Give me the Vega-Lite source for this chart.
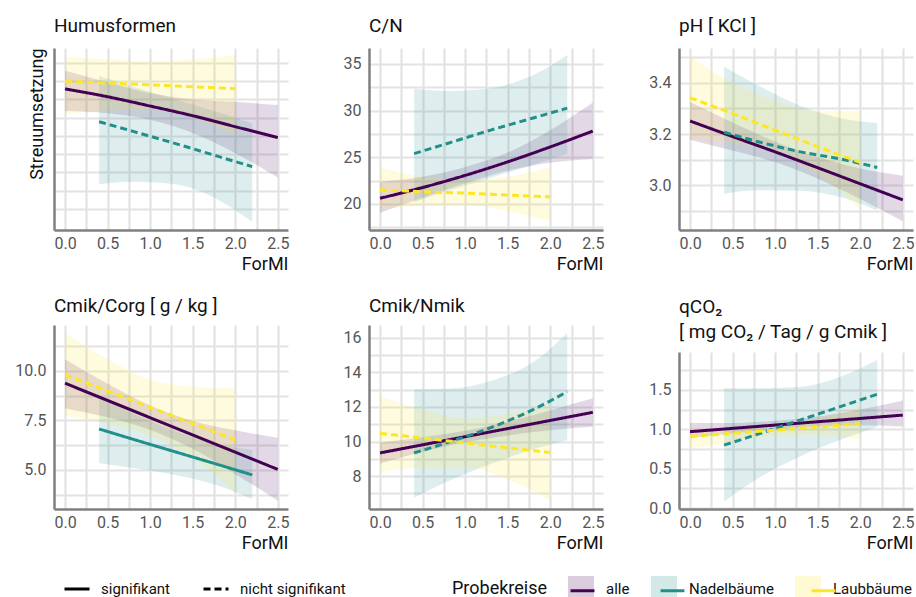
{
  "$schema": "https://vega.github.io/schema/vega-lite/v6.json",
  "background": "white",
  "padding": {"left": 14, "top": 17, "right": 0, "bottom": 0},
  "config": {
    "view": {"stroke": null},
    "font": "Roboto",
    "axis": {"domainColor": "#7f7f7f", "domainWidth": 2.5, "gridColor": "#e3e3e3", "gridWidth": 2.2, "ticks": false, "labelColor": "#555555", "labelFont": "Roboto", "labelFontSize": 16, "titleFont": "Roboto", "titleFontSize": 18, "titleFontWeight": "normal", "titleColor": "#111111", "labelOverlap": false, "labelFlush": false, "tickCount": 50},
    "axisX": {"labelPadding": 5, "labelOverlap": false},
    "axisY": {"labelPadding": 8, "labelOverlap": false},
    "title": {"font": "Roboto", "fontSize": 19, "fontWeight": "normal", "anchor": "start", "frame": "group", "color": "#111111", "offset": 12},
    "range": {"category": ["#440154", "#21908C", "#FDE725"]}
  },
  "datasets": {
    "fits": [
      {"p":"hum","g":"alle","s":"signifikant","x":0,"fit":7.58,"lo":6.37,"hi":8.58},
      {"p":"hum","g":"alle","s":"signifikant","x":0.5,"fit":7.15,"lo":6.25,"hi":7.95},
      {"p":"hum","g":"alle","s":"signifikant","x":1.0,"fit":6.64,"lo":5.89,"hi":7.35},
      {"p":"hum","g":"alle","s":"signifikant","x":1.5,"fit":6.11,"lo":5.16,"hi":7.0},
      {"p":"hum","g":"alle","s":"signifikant","x":2.0,"fit":5.51,"lo":4.06,"hi":6.87},
      {"p":"hum","g":"alle","s":"signifikant","x":2.5,"fit":4.91,"lo":2.72,"hi":6.70},
      {"p":"hum","g":"Nadelbäume","s":"nicht signifikant","x":0.4,"fit":5.78,"lo":2.36,"hi":8.29},
      {"p":"hum","g":"Nadelbäume","s":"nicht signifikant","x":0.8,"fit":5.25,"lo":2.5,"hi":7.7},
      {"p":"hum","g":"Nadelbäume","s":"nicht signifikant","x":1.3,"fit":4.58,"lo":2.35,"hi":7.0},
      {"p":"hum","g":"Nadelbäume","s":"nicht signifikant","x":1.8,"fit":3.88,"lo":1.5,"hi":6.3},
      {"p":"hum","g":"Nadelbäume","s":"nicht signifikant","x":2.2,"fit":3.32,"lo":0.30,"hi":5.70},
      {"p":"hum","g":"Laubbäume","s":"nicht signifikant","x":0,"fit":8.0,"lo":6.2,"hi":9.35},
      {"p":"hum","g":"Laubbäume","s":"nicht signifikant","x":0.5,"fit":7.9,"lo":6.4,"hi":9.2},
      {"p":"hum","g":"Laubbäume","s":"nicht signifikant","x":1.0,"fit":7.8,"lo":6.45,"hi":9.1},
      {"p":"hum","g":"Laubbäume","s":"nicht signifikant","x":1.5,"fit":7.7,"lo":6.0,"hi":9.2},
      {"p":"hum","g":"Laubbäume","s":"nicht signifikant","x":2.0,"fit":7.59,"lo":5.05,"hi":9.44},

      {"p":"cn","g":"alle","s":"signifikant","x":0,"fit":20.6,"lo":19.04,"hi":22.35},
      {"p":"cn","g":"alle","s":"signifikant","x":0.5,"fit":21.75,"lo":20.65,"hi":22.9},
      {"p":"cn","g":"alle","s":"signifikant","x":1.0,"fit":23.05,"lo":22.2,"hi":23.95},
      {"p":"cn","g":"alle","s":"signifikant","x":1.5,"fit":24.5,"lo":23.55,"hi":25.5},
      {"p":"cn","g":"alle","s":"signifikant","x":2.0,"fit":26.1,"lo":24.4,"hi":27.9},
      {"p":"cn","g":"alle","s":"signifikant","x":2.5,"fit":27.8,"lo":24.81,"hi":30.87},
      {"p":"cn","g":"Nadelbäume","s":"nicht signifikant","x":0.4,"fit":25.38,"lo":20.18,"hi":32.33},
      {"p":"cn","g":"Nadelbäume","s":"nicht signifikant","x":0.8,"fit":26.5,"lo":21.4,"hi":32.1},
      {"p":"cn","g":"Nadelbäume","s":"nicht signifikant","x":1.3,"fit":27.9,"lo":22.8,"hi":32.4},
      {"p":"cn","g":"Nadelbäume","s":"nicht signifikant","x":1.8,"fit":29.2,"lo":24.2,"hi":33.8},
      {"p":"cn","g":"Nadelbäume","s":"nicht signifikant","x":2.2,"fit":30.26,"lo":25.38,"hi":35.96},
      {"p":"cn","g":"Laubbäume","s":"nicht signifikant","x":0,"fit":21.5,"lo":19.4,"hi":23.92},
      {"p":"cn","g":"Laubbäume","s":"nicht signifikant","x":0.5,"fit":21.3,"lo":19.8,"hi":22.9},
      {"p":"cn","g":"Laubbäume","s":"nicht signifikant","x":1.0,"fit":21.15,"lo":19.9,"hi":22.6},
      {"p":"cn","g":"Laubbäume","s":"nicht signifikant","x":1.5,"fit":20.95,"lo":19.2,"hi":22.9},
      {"p":"cn","g":"Laubbäume","s":"nicht signifikant","x":2.0,"fit":20.75,"lo":18.15,"hi":23.92},

      {"p":"ph","g":"alle","s":"signifikant","x":0,"fit":3.251,"lo":3.178,"hi":3.325},
      {"p":"ph","g":"alle","s":"signifikant","x":0.5,"fit":3.19,"lo":3.135,"hi":3.245},
      {"p":"ph","g":"alle","s":"signifikant","x":1.0,"fit":3.13,"lo":3.09,"hi":3.17},
      {"p":"ph","g":"alle","s":"signifikant","x":1.5,"fit":3.068,"lo":3.025,"hi":3.11},
      {"p":"ph","g":"alle","s":"signifikant","x":2.0,"fit":3.005,"lo":2.945,"hi":3.065},
      {"p":"ph","g":"alle","s":"signifikant","x":2.5,"fit":2.942,"lo":2.858,"hi":3.037},
      {"p":"ph","g":"Nadelbäume","s":"nicht signifikant","x":0.4,"fit":3.207,"lo":2.966,"hi":3.465},
      {"p":"ph","g":"Nadelbäume","s":"nicht signifikant","x":0.8,"fit":3.17,"lo":2.98,"hi":3.39},
      {"p":"ph","g":"Nadelbäume","s":"nicht signifikant","x":1.3,"fit":3.13,"lo":2.978,"hi":3.31},
      {"p":"ph","g":"Nadelbäume","s":"nicht signifikant","x":1.8,"fit":3.10,"lo":2.95,"hi":3.26},
      {"p":"ph","g":"Nadelbäume","s":"nicht signifikant","x":2.2,"fit":3.069,"lo":2.90,"hi":3.243},
      {"p":"ph","g":"Laubbäume","s":"nicht signifikant","x":0,"fit":3.342,"lo":3.18,"hi":3.505},
      {"p":"ph","g":"Laubbäume","s":"nicht signifikant","x":0.5,"fit":3.28,"lo":3.165,"hi":3.40},
      {"p":"ph","g":"Laubbäume","s":"nicht signifikant","x":1.0,"fit":3.215,"lo":3.13,"hi":3.33},
      {"p":"ph","g":"Laubbäume","s":"nicht signifikant","x":1.5,"fit":3.15,"lo":3.04,"hi":3.29},
      {"p":"ph","g":"Laubbäume","s":"nicht signifikant","x":2.0,"fit":3.089,"lo":2.906,"hi":3.289},

      {"p":"cc","g":"alle","s":"signifikant","x":0,"fit":9.38,"lo":8.11,"hi":10.59},
      {"p":"cc","g":"alle","s":"signifikant","x":0.5,"fit":8.51,"lo":7.66,"hi":9.36},
      {"p":"cc","g":"alle","s":"signifikant","x":1.0,"fit":7.64,"lo":7.02,"hi":8.26},
      {"p":"cc","g":"alle","s":"signifikant","x":1.5,"fit":6.77,"lo":6.07,"hi":7.47},
      {"p":"cc","g":"alle","s":"signifikant","x":2.0,"fit":5.9,"lo":4.8,"hi":7.0},
      {"p":"cc","g":"alle","s":"signifikant","x":2.5,"fit":5.03,"lo":3.45,"hi":6.63},
      {"p":"cc","g":"Nadelbäume","s":"signifikant","x":0.4,"fit":7.07,"lo":5.34,"hi":8.62},
      {"p":"cc","g":"Nadelbäume","s":"signifikant","x":0.8,"fit":6.55,"lo":5.1,"hi":7.85},
      {"p":"cc","g":"Nadelbäume","s":"signifikant","x":1.3,"fit":5.91,"lo":4.75,"hi":6.95},
      {"p":"cc","g":"Nadelbäume","s":"signifikant","x":1.8,"fit":5.27,"lo":4.2,"hi":6.3},
      {"p":"cc","g":"Nadelbäume","s":"signifikant","x":2.2,"fit":4.75,"lo":3.52,"hi":6.01},
      {"p":"cc","g":"Laubbäume","s":"nicht signifikant","x":0,"fit":9.8,"lo":7.73,"hi":11.9},
      {"p":"cc","g":"Laubbäume","s":"nicht signifikant","x":0.5,"fit":8.98,"lo":7.35,"hi":10.6},
      {"p":"cc","g":"Laubbäume","s":"nicht signifikant","x":1.0,"fit":8.16,"lo":6.75,"hi":9.55},
      {"p":"cc","g":"Laubbäume","s":"nicht signifikant","x":1.5,"fit":7.34,"lo":5.6,"hi":9.2},
      {"p":"cc","g":"Laubbäume","s":"nicht signifikant","x":2.0,"fit":6.52,"lo":3.82,"hi":9.12},

      {"p":"cnm","g":"alle","s":"signifikant","x":0,"fit":9.34,"lo":8.72,"hi":9.94},
      {"p":"cnm","g":"alle","s":"signifikant","x":0.5,"fit":9.81,"lo":9.4,"hi":10.25},
      {"p":"cnm","g":"alle","s":"signifikant","x":1.0,"fit":10.28,"lo":9.95,"hi":10.62},
      {"p":"cnm","g":"alle","s":"signifikant","x":1.5,"fit":10.75,"lo":10.35,"hi":11.15},
      {"p":"cnm","g":"alle","s":"signifikant","x":2.0,"fit":11.22,"lo":10.65,"hi":11.8},
      {"p":"cnm","g":"alle","s":"signifikant","x":2.5,"fit":11.69,"lo":10.85,"hi":12.5},
      {"p":"cnm","g":"Nadelbäume","s":"nicht signifikant","x":0.4,"fit":9.34,"lo":6.74,"hi":13.03},
      {"p":"cnm","g":"Nadelbäume","s":"nicht signifikant","x":0.8,"fit":9.95,"lo":7.7,"hi":13.05},
      {"p":"cnm","g":"Nadelbäume","s":"nicht signifikant","x":1.3,"fit":10.8,"lo":8.7,"hi":13.5},
      {"p":"cnm","g":"Nadelbäume","s":"nicht signifikant","x":1.8,"fit":11.85,"lo":9.55,"hi":14.6},
      {"p":"cnm","g":"Nadelbäume","s":"nicht signifikant","x":2.2,"fit":12.89,"lo":10.08,"hi":16.29},
      {"p":"cnm","g":"Laubbäume","s":"nicht signifikant","x":0,"fit":10.47,"lo":8.23,"hi":12.64},
      {"p":"cnm","g":"Laubbäume","s":"nicht signifikant","x":0.5,"fit":10.2,"lo":8.5,"hi":11.85},
      {"p":"cnm","g":"Laubbäume","s":"nicht signifikant","x":1.0,"fit":9.92,"lo":8.5,"hi":11.34},
      {"p":"cnm","g":"Laubbäume","s":"nicht signifikant","x":1.5,"fit":9.64,"lo":7.8,"hi":11.6},
      {"p":"cnm","g":"Laubbäume","s":"nicht signifikant","x":2.0,"fit":9.36,"lo":6.58,"hi":12.1},

      {"p":"qco2","g":"alle","s":"signifikant","x":0,"fit":0.97,"lo":0.89,"hi":1.08},
      {"p":"qco2","g":"alle","s":"signifikant","x":0.5,"fit":1.012,"lo":0.95,"hi":1.08},
      {"p":"qco2","g":"alle","s":"signifikant","x":1.0,"fit":1.054,"lo":1.0,"hi":1.11},
      {"p":"qco2","g":"alle","s":"signifikant","x":1.5,"fit":1.096,"lo":1.04,"hi":1.16},
      {"p":"qco2","g":"alle","s":"signifikant","x":2.0,"fit":1.138,"lo":1.05,"hi":1.25},
      {"p":"qco2","g":"alle","s":"signifikant","x":2.5,"fit":1.18,"lo":1.035,"hi":1.365},
      {"p":"qco2","g":"Nadelbäume","s":"nicht signifikant","x":0.4,"fit":0.80,"lo":0.085,"hi":1.52},
      {"p":"qco2","g":"Nadelbäume","s":"nicht signifikant","x":0.8,"fit":0.94,"lo":0.38,"hi":1.52},
      {"p":"qco2","g":"Nadelbäume","s":"nicht signifikant","x":1.3,"fit":1.12,"lo":0.66,"hi":1.54},
      {"p":"qco2","g":"Nadelbäume","s":"nicht signifikant","x":1.8,"fit":1.30,"lo":0.88,"hi":1.68},
      {"p":"qco2","g":"Nadelbäume","s":"nicht signifikant","x":2.2,"fit":1.445,"lo":1.03,"hi":1.88},
      {"p":"qco2","g":"Laubbäume","s":"nicht signifikant","x":0,"fit":0.91,"lo":0.76,"hi":1.01},
      {"p":"qco2","g":"Laubbäume","s":"nicht signifikant","x":0.5,"fit":0.95,"lo":0.84,"hi":1.02},
      {"p":"qco2","g":"Laubbäume","s":"nicht signifikant","x":1.0,"fit":0.99,"lo":0.92,"hi":1.06},
      {"p":"qco2","g":"Laubbäume","s":"nicht signifikant","x":1.5,"fit":1.03,"lo":0.93,"hi":1.14},
      {"p":"qco2","g":"Laubbäume","s":"nicht signifikant","x":2.0,"fit":1.07,"lo":0.87,"hi":1.29}
    ]
  },
  "spacing": 54,
  "hconcat": [
    {
      "spacing": 95, "bounds": "flush",
      "vconcat": [
        {
          "width": 234, "height": 182,
          "title": {"text": "Humusformen", "offset": 12},
          "data": {"name": "fits"},
          "transform": [{"filter": "datum.p == 'hum'"}],
          "encoding": {"x": {"field": "x", "type": "quantitative", "scale": {"domain": [-0.13, 2.62], "nice": false, "zero": false}, "axis": {"values": [0,0.25,0.5,0.75,1,1.25,1.5,1.75,2,2.25,2.5], "tickCount": 50, "format": ".1f", "labelExpr": "datum.value % 0.5 == 0 ? datum.label : ''", "labelOverlap": false, "title": "ForMI", "titleAnchor": "end", "titlePadding": 4}}},
          "layer": [
            {"mark": {"type": "area", "interpolate": "monotone", "fillOpacity": 0.15},
             "encoding": {
               "y": {"field": "lo", "type": "quantitative", "scale": {"domain": [-0.15, 9.82], "nice": false, "zero": false}, "axis": {"values": [1,2,3,4,5,6,7,8,9], "tickCount": 50, "labels": false, "labelOverlap": false, "title": "Streuumsetzung", "titleAnchor": "end", "titlePadding": 8}},
               "y2": {"field": "hi"},
               "fill": {"field": "g", "type": "nominal", "scale": {"domain": ["alle","Nadelbäume","Laubbäume"]},
                 "legend": {"orient": "none", "legendX": 398, "legendY": 528, "direction": "horizontal", "title": "Probekreise", "titleOrient": "left", "titleAnchor": "middle", "titleBaseline": "middle", "titleFont": "Roboto", "titleFontSize": 18, "titleFontWeight": "normal", "titleColor": "#111111", "titlePadding": 20, "symbolType": "square", "symbolSize": 676, "symbolOpacity": 0.2, "symbolStrokeWidth": 0, "labelFont": "Roboto", "labelFontSize": 15, "labelColor": "#111111", "labelOffset": 12, "columnPadding": 21}}
             }},
            {"mark": {"type": "line", "interpolate": "monotone", "strokeWidth": 3},
             "encoding": {
               "y": {"field": "fit", "type": "quantitative", "axis": {"title": "Streuumsetzung"}},
               "stroke": {"field": "g", "type": "nominal", "scale": {"domain": ["alle","Nadelbäume","Laubbäume","-"]},
                 "legend": {"orient": "none", "legendX": 398, "legendY": 528, "direction": "horizontal", "values": ["alle","Nadelbäume","Laubbäume"], "title": "Probekreise", "titleOrient": "left", "titleAnchor": "middle", "titleBaseline": "middle", "titleFont": "Roboto", "titleFontSize": 18, "titleFontWeight": "normal", "titleOpacity": 0, "titlePadding": 20, "symbolType": "M-0.92,0H0.92", "symbolSize": 676, "symbolStrokeWidth": 3, "labelFont": "Roboto", "labelFontSize": 15, "labelOpacity": 0, "labelOffset": 12, "columnPadding": 21}},
               "strokeDash": {"field": "s", "type": "nominal", "scale": {"domain": ["signifikant","nicht signifikant"], "range": [[1,0],[7,4]]},
                 "legend": {"orient": "none", "legendX": 9, "legendY": 527, "direction": "horizontal", "title": null, "symbolType": "stroke", "symbolSize": 625, "symbolStrokeWidth": 3, "symbolStrokeColor": "black", "labelFont": "Roboto", "labelFontSize": 15, "labelColor": "#111111", "labelOffset": 10, "columnPadding": 26, "encode": {"symbols": {"update": {"stroke": {"value": "black"}}}}}}
             }},
            {"data": {"values": [{"p": "hum"}]},
             "mark": {"type": "point", "shape": "M-0.9,1L0,0L0.9,1", "size": 240, "filled": false, "stroke": "#7f7f7f", "strokeWidth": 2.5, "opacity": 1},
             "encoding": {"x": {"datum": -0.13, "type": "quantitative", "title": "ForMI"}, "y": {"datum": 9.82, "type": "quantitative", "title": "Streuumsetzung"}}}
          ]
        },
        {
          "width": 234, "height": 184,
          "title": {"text": "Cmik/Corg [ g / kg ]", "offset": 9},
          "data": {"name": "fits"},
          "transform": [{"filter": "datum.p == 'cc'"}],
          "encoding": {"x": {"field": "x", "type": "quantitative", "scale": {"domain": [-0.13, 2.62], "nice": false, "zero": false}, "axis": {"values": [0,0.25,0.5,0.75,1,1.25,1.5,1.75,2,2.25,2.5], "tickCount": 50, "format": ".1f", "labelExpr": "datum.value % 0.5 == 0 ? datum.label : ''", "labelOverlap": false, "title": "ForMI", "titleAnchor": "end", "titlePadding": 4}}},
          "layer": [
            {"mark": {"type": "area", "interpolate": "monotone", "fillOpacity": 0.15},
             "encoding": {
               "y": {"field": "lo", "type": "quantitative", "scale": {"domain": [3.03, 12.32], "nice": false, "zero": false}, "axis": {"values": [3.75,5,6.25,7.5,8.75,10,11.25], "tickCount": 50, "format": ".1f", "labelExpr": "datum.value % 2.5 == 0 ? datum.label : ''", "labelOverlap": false, "title": null}},
               "y2": {"field": "hi"},
               "fill": {"field": "g", "type": "nominal", "scale": {"domain": ["alle","Nadelbäume","Laubbäume"]}}
             }},
            {"mark": {"type": "line", "interpolate": "monotone", "strokeWidth": 3},
             "encoding": {
               "y": {"field": "fit", "type": "quantitative", "axis": {"title": null, "labelOverlap": false}},
               "stroke": {"field": "g", "type": "nominal", "scale": {"domain": ["alle","Nadelbäume","Laubbäume","-"]}},
               "strokeDash": {"field": "s", "type": "nominal", "scale": {"domain": ["signifikant","nicht signifikant"], "range": [[1,0],[7,4]]}}
             }}
          ]
        }
      ]
    },
    {
      "spacing": 44,
      "hconcat": [
        {
          "spacing": 95, "bounds": "flush",
          "vconcat": [
            {
              "width": 234, "height": 182,
              "title": {"text": "C/N", "offset": 12},
              "data": {"name": "fits"},
              "transform": [{"filter": "datum.p == 'cn'"}],
              "encoding": {"x": {"field": "x", "type": "quantitative", "scale": {"domain": [-0.13, 2.62], "nice": false, "zero": false}, "axis": {"values": [0,0.25,0.5,0.75,1,1.25,1.5,1.75,2,2.25,2.5], "tickCount": 50, "format": ".1f", "labelExpr": "datum.value % 0.5 == 0 ? datum.label : ''", "labelOverlap": false, "title": "ForMI", "titleAnchor": "end", "titlePadding": 4}}},
              "layer": [
                {"mark": {"type": "area", "interpolate": "monotone", "fillOpacity": 0.15},
                 "encoding": {
                   "y": {"field": "lo", "type": "quantitative", "scale": {"domain": [17.2, 36.7], "nice": false, "zero": false}, "axis": {"values": [17.5,20,22.5,25,27.5,30,32.5,35], "tickCount": 50, "format": "d", "labelExpr": "datum.value % 5 == 0 ? datum.label : ''", "labelOverlap": false, "title": null}},
                   "y2": {"field": "hi"},
                   "fill": {"field": "g", "type": "nominal", "scale": {"domain": ["alle","Nadelbäume","Laubbäume"]}}
                 }},
                {"mark": {"type": "line", "interpolate": "monotone", "strokeWidth": 3},
                 "encoding": {
                   "y": {"field": "fit", "type": "quantitative", "axis": {"title": null, "labelOverlap": false}},
                   "stroke": {"field": "g", "type": "nominal", "scale": {"domain": ["alle","Nadelbäume","Laubbäume","-"]}},
                   "strokeDash": {"field": "s", "type": "nominal", "scale": {"domain": ["signifikant","nicht signifikant"], "range": [[1,0],[7,4]]}}
                 }}
              ]
            },
            {
              "width": 234, "height": 184,
              "title": {"text": "Cmik/Nmik", "offset": 9},
              "data": {"name": "fits"},
              "transform": [{"filter": "datum.p == 'cnm'"}],
              "encoding": {"x": {"field": "x", "type": "quantitative", "scale": {"domain": [-0.13, 2.62], "nice": false, "zero": false}, "axis": {"values": [0,0.25,0.5,0.75,1,1.25,1.5,1.75,2,2.25,2.5], "tickCount": 50, "format": ".1f", "labelExpr": "datum.value % 0.5 == 0 ? datum.label : ''", "labelOverlap": false, "title": "ForMI", "titleAnchor": "end", "titlePadding": 4}}},
              "layer": [
                {"mark": {"type": "area", "interpolate": "monotone", "fillOpacity": 0.15},
                 "encoding": {
                   "y": {"field": "lo", "type": "quantitative", "scale": {"domain": [6.09, 16.75], "nice": false, "zero": false}, "axis": {"values": [7,8,9,10,11,12,13,14,15,16], "tickCount": 50, "format": "d", "labelExpr": "datum.value % 2 == 0 ? datum.label : ''", "labelOverlap": false, "title": null}},
                   "y2": {"field": "hi"},
                   "fill": {"field": "g", "type": "nominal", "scale": {"domain": ["alle","Nadelbäume","Laubbäume"]}}
                 }},
                {"mark": {"type": "line", "interpolate": "monotone", "strokeWidth": 3},
                 "encoding": {
                   "y": {"field": "fit", "type": "quantitative", "axis": {"title": null, "labelOverlap": false}},
                   "stroke": {"field": "g", "type": "nominal", "scale": {"domain": ["alle","Nadelbäume","Laubbäume","-"]}},
                   "strokeDash": {"field": "s", "type": "nominal", "scale": {"domain": ["signifikant","nicht signifikant"], "range": [[1,0],[7,4]]}}
                 }}
              ]
            }
          ]
        },
        {
          "spacing": 122, "bounds": "flush",
          "vconcat": [
            {
              "width": 234, "height": 182,
              "title": {"text": "pH [ KCl ]", "offset": 12},
              "data": {"name": "fits"},
              "transform": [{"filter": "datum.p == 'ph'"}],
              "encoding": {"x": {"field": "x", "type": "quantitative", "scale": {"domain": [-0.13, 2.62], "nice": false, "zero": false}, "axis": {"values": [0,0.25,0.5,0.75,1,1.25,1.5,1.75,2,2.25,2.5], "tickCount": 50, "format": ".1f", "labelExpr": "datum.value % 0.5 == 0 ? datum.label : ''", "labelOverlap": false, "title": "ForMI", "titleAnchor": "end", "titlePadding": 4}}},
              "layer": [
                {"mark": {"type": "area", "interpolate": "monotone", "fillOpacity": 0.15},
                 "encoding": {
                   "y": {"field": "lo", "type": "quantitative", "scale": {"domain": [2.824, 3.537], "nice": false, "zero": false}, "axis": {"values": [2.9,3,3.1,3.2,3.3,3.4,3.5], "tickCount": 50, "format": ".1f", "labelExpr": "round(datum.value * 10) % 2 == 0 ? datum.label : ''", "labelOverlap": false, "title": null}},
                   "y2": {"field": "hi"},
                   "fill": {"field": "g", "type": "nominal", "scale": {"domain": ["alle","Nadelbäume","Laubbäume"]}}
                 }},
                {"mark": {"type": "line", "interpolate": "monotone", "strokeWidth": 3},
                 "encoding": {
                   "y": {"field": "fit", "type": "quantitative", "axis": {"title": null, "labelOverlap": false}},
                   "stroke": {"field": "g", "type": "nominal", "scale": {"domain": ["alle","Nadelbäume","Laubbäume","-"]}},
                   "strokeDash": {"field": "s", "type": "nominal", "scale": {"domain": ["signifikant","nicht signifikant"], "range": [[1,0],[7,4]]}}
                 }}
              ]
            },
            {
              "width": 234, "height": 157,
              "title": {"text": ["qCO₂", "[ mg CO₂ / Tag / g Cmik ]"], "offset": 10, "lineHeight": 25},
              "data": {"name": "fits"},
              "transform": [{"filter": "datum.p == 'qco2'"}],
              "encoding": {"x": {"field": "x", "type": "quantitative", "scale": {"domain": [-0.13, 2.62], "nice": false, "zero": false}, "axis": {"values": [0,0.25,0.5,0.75,1,1.25,1.5,1.75,2,2.25,2.5], "tickCount": 50, "format": ".1f", "labelExpr": "datum.value % 0.5 == 0 ? datum.label : ''", "labelOverlap": false, "title": "ForMI", "titleAnchor": "end", "titlePadding": 4}}},
              "layer": [
                {"mark": {"type": "area", "interpolate": "monotone", "fillOpacity": 0.15},
                 "encoding": {
                   "y": {"field": "lo", "type": "quantitative", "scale": {"domain": [-0.01, 1.98], "nice": false, "zero": false}, "axis": {"values": [0,0.25,0.5,0.75,1,1.25,1.5,1.75], "tickCount": 50, "format": ".1f", "labelExpr": "datum.value % 0.5 == 0 ? datum.label : ''", "labelOverlap": false, "title": null}},
                   "y2": {"field": "hi"},
                   "fill": {"field": "g", "type": "nominal", "scale": {"domain": ["alle","Nadelbäume","Laubbäume"]}}
                 }},
                {"mark": {"type": "line", "interpolate": "monotone", "strokeWidth": 3},
                 "encoding": {
                   "y": {"field": "fit", "type": "quantitative", "axis": {"title": null, "labelOverlap": false}},
                   "stroke": {"field": "g", "type": "nominal", "scale": {"domain": ["alle","Nadelbäume","Laubbäume","-"]}},
                   "strokeDash": {"field": "s", "type": "nominal", "scale": {"domain": ["signifikant","nicht signifikant"], "range": [[1,0],[7,4]]}}
                 }}
              ]
            }
          ]
        }
      ]
    }
  ]
}
